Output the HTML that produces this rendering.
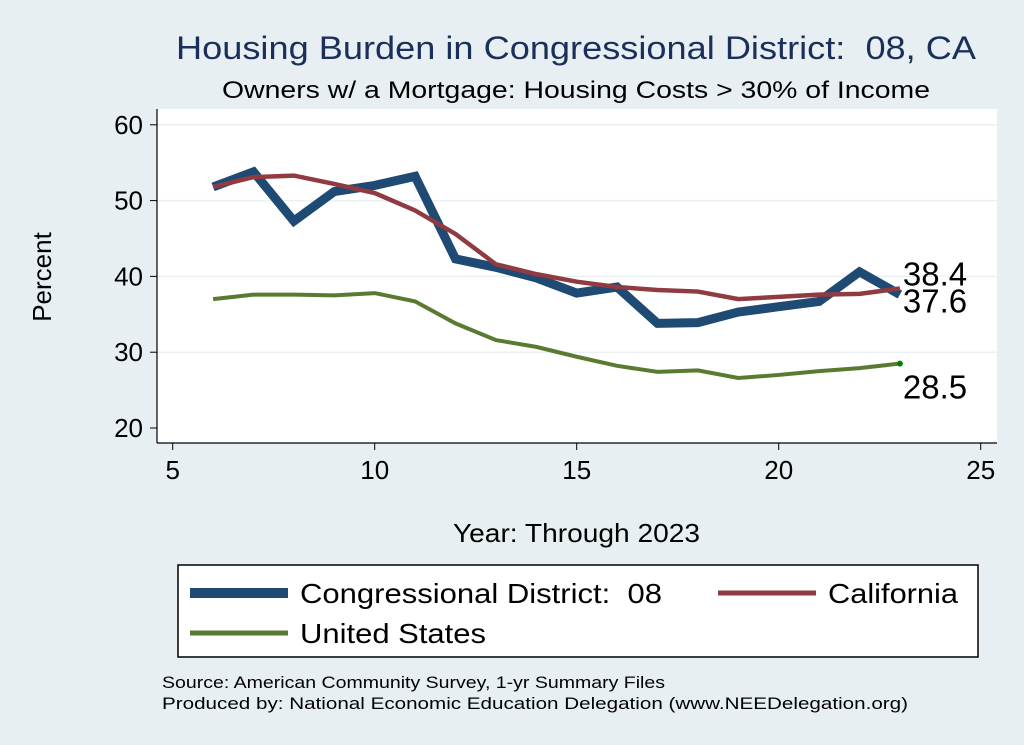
<!DOCTYPE html>
<html><head><meta charset="utf-8"><style>
body{margin:0;background:#e8eff2;}
svg{display:block;font-family:"Liberation Sans",sans-serif;}
</style></head><body>
<svg id="chart" width="1024" height="745" viewBox="0 0 1024 745">
<rect x="0" y="0" width="1024" height="745" fill="#e8eff2"/>
<text x="176" y="59" font-size="32" fill="#1a2f5a" textLength="800" lengthAdjust="spacingAndGlyphs">Housing Burden in Congressional District:&#160; 08, CA</text>
<text x="222" y="98" font-size="24" fill="#000" textLength="708" lengthAdjust="spacingAndGlyphs">Owners w/ a Mortgage: Housing Costs &gt; 30% of Income</text>
<rect x="157" y="109" width="840" height="334" fill="#fff"/>
<g id="grid"></g>
<g id="axes"></g>
<g id="series"></g>
<text transform="translate(51,277) rotate(-90)" font-size="26" text-anchor="middle">Percent</text>
<text x="453" y="542" font-size="26" textLength="247" lengthAdjust="spacingAndGlyphs">Year: Through 2023</text>
<g>
<rect x="178" y="565" width="800" height="92" fill="#fff" stroke="#000" stroke-width="1.5"/>
<g><line x1="190" y1="593" x2="288" y2="593" stroke="#1f4a73" stroke-width="10"/><text x="300" y="603" font-size="28" textLength="362" lengthAdjust="spacingAndGlyphs">Congressional District:&#160; 08</text></g>
<g><line x1="718" y1="593" x2="816" y2="593" stroke="#903b42" stroke-width="5"/><text x="828" y="603" font-size="28" textLength="130" lengthAdjust="spacingAndGlyphs">California</text></g>
<g><line x1="190" y1="633" x2="288" y2="633" stroke="#5a7a32" stroke-width="5"/><text x="300" y="643" font-size="28" textLength="186" lengthAdjust="spacingAndGlyphs">United States</text></g>
</g>
<text x="162" y="688" font-size="17" textLength="503" lengthAdjust="spacingAndGlyphs">Source: American Community Survey, 1-yr Summary Files</text>
<text x="162" y="709" font-size="17" textLength="746" lengthAdjust="spacingAndGlyphs">Produced by: National Economic Education Delegation (www.NEEDelegation.org)</text>
</svg>
<script>
const years = [6,7,8,9,10,11,12,13,14,15,16,17,18,19,20,21,22,23];
const districtValues = [51.8,53.8,47.3,51.2,52.0,53.2,42.3,41.2,39.8,37.8,38.6,33.8,33.9,35.3,36.0,36.7,40.6,37.6];
const californiaValues = [51.8,53.1,53.3,52.2,51.0,48.7,45.6,41.6,40.3,39.3,38.6,38.2,38.0,37.0,37.3,37.6,37.7,38.4];
const usValues = [37.0,37.6,37.6,37.5,37.8,36.7,33.8,31.6,30.7,29.4,28.2,27.4,27.6,26.6,27.0,27.5,27.9,28.5];
const xTicks = [5,10,15,20,25];
const yTicks = [20,30,40,50,60];

const NS = "http://www.w3.org/2000/svg";
const xs = v => 172.7 + (v - 5) * 40.4;
const ys = v => 428 - (v - 20) * 7.58;
function mk(tag, attrs, parent){const e=document.createElementNS(NS,tag);for(const k in attrs)e.setAttribute(k,attrs[k]);parent.appendChild(e);return e;}
const grid=document.getElementById('grid'), axes=document.getElementById('axes'), series=document.getElementById('series');
yTicks.forEach(t=>{
  if(t>20){const g=mk('line',{x1:157,x2:997,y1:ys(t),y2:ys(t),stroke:'#eaf0f3','stroke-width':1.5},grid);
  
  }
  const tk=mk('line',{x1:150,x2:157,y1:ys(t),y2:ys(t),stroke:'#000','stroke-width':1},axes);
  
  
  const tx=mk('text',{x:143,y:ys(t)+9,'font-size':26,'text-anchor':'end'},axes);
  tx.textContent=t;
  
  
});
xTicks.forEach(t=>{
  const tk=mk('line',{x1:xs(t),x2:xs(t),y1:443,y2:450,stroke:'#000','stroke-width':1},axes);
  
  
  const tx=mk('text',{x:xs(t),y:479,'font-size':26,'text-anchor':'middle'},axes);
  tx.textContent=t;
  
  
});
const ya=mk('line',{x1:157,x2:157,y1:109,y2:443,stroke:'#000','stroke-width':1.2},axes);


const xa=mk('line',{x1:157,x2:997,y1:443,y2:443,stroke:'#000','stroke-width':1.2},axes);


function line(vals,color,w,name){
  const p=mk('polyline',{points:vals.map((v,i)=>xs(years[i])+','+ys(v)).join(' '),fill:'none',stroke:color,'stroke-width':w,'stroke-linejoin':'miter'},series);
  
  
}
line(usValues,'#5a7a32',4,'us-line');
line(districtValues,'#1f4a73',9,'district-line');
line(californiaValues,'#903b42',4.5,'california-line');
const last=years.length-1;
const dot=mk('circle',{cx:xs(years[last]),cy:ys(usValues[last]),r:3,fill:'#008000'},series);


function lab(v,dy,name){const t=mk('text',{x:xs(years[last])+3,y:ys(v)+dy,'font-size':33},series);t.textContent=v.toFixed(1);

}
lab(californiaValues[last],-3,'california-end-label');
lab(districtValues[last],18,'district-end-label');
lab(usValues[last],35,'us-end-label');
</script>
</body></html>
